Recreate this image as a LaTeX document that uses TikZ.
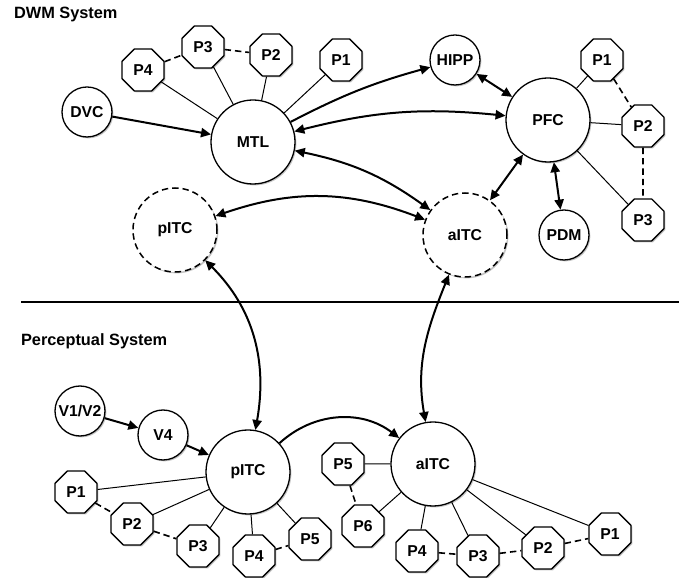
\documentclass[tikz,border=0pt]{standalone}
\usepackage{fontspec}
\setmainfont{Liberation Sans}
\usetikzlibrary{arrows.meta}
\usetikzlibrary{shapes, shadows}

\begin{document}
\begin{tikzpicture}[>={Triangle[length=5bp,width=4.6bp]},line join=bevel,
  font=\fontsize{7.9}{9}\selectfont\bfseries,
  area/.style={circle,draw,fill=white,line width=0.65bp,inner sep=0pt,minimum size=42bp,
    drop shadow={shadow xshift=0.7bp,shadow yshift=-0.7bp,fill=black!45}},
  smallarea/.style={area,minimum size=25bp},
  putative/.style={area,line width=0.75bp,dash pattern=on 3.2bp off 2bp},
  pnode/.style={regular polygon,regular polygon sides=8,draw,fill=white,line width=0.65bp,
    inner sep=0pt,minimum size=22.7bp,
    drop shadow={shadow xshift=0.7bp,shadow yshift=-0.7bp,fill=black!45}},
  link/.style={line width=0.5bp},
  plink/.style={line width=0.8bp,dash pattern=on 3.2bp off 2bp},
  conn/.style={line width=1bp},
  ]
\useasboundingbox (0bp,0bp) rectangle (339.5bp,289bp);
%% DWM system
\node (title_dwm) at (3.5bp,282bp) [anchor=west,font=\fontsize{8.2}{10}\selectfont\bfseries] {DWM System};
  \node (node_dvc) at (43.5bp,233bp) [smallarea] {DVC};
  \node (node_mtl) at (126.5bp,218bp) [area] {MTL};
  \node (node_mtl_p4) at (71.5bp,254bp) [pnode] {P4};
  \node (node_mtl_p3) at (101.5bp,265.5bp) [pnode] {P3};
  \node (node_mtl_p2) at (135.5bp,261.5bp) [pnode] {P2};
  \node (node_mtl_p1) at (170.5bp,259bp) [pnode] {P1};
  \node (node_hipp) at (227.5bp,259bp) [smallarea] {HIPP};
  \node (node_pfc) at (274bp,229bp) [area] {PFC};
  \node (node_pfc_p1) at (301bp,259bp) [pnode] {P1};
  \node (node_pfc_p2) at (321.5bp,226bp) [pnode] {P2};
  \node (node_pfc_p3) at (321.5bp,179bp) [pnode] {P3};
  \node (node_pdm) at (282bp,171.5bp) [smallarea] {PDM};
  \node (node_aitc_d) at (232.5bp,171.5bp) [putative] {aITC};
  \node (node_pitc_d) at (87.5bp,174bp) [putative] {pITC};
  \draw [conn,->] (node_dvc) -- (node_mtl);
  \draw [conn,->] (node_mtl) to[bend left=6] (node_hipp);
  \draw [conn,<->] (node_mtl) to[bend left=10] (node_pfc);
  \draw [conn,<->] (node_mtl) to[bend left=12] (node_aitc_d);
  \draw [conn,<->] (node_pitc_d) to[bend left=20] (node_aitc_d);
  \draw [conn,<->] (node_hipp) -- (node_pfc);
  \draw [conn,<->] (node_aitc_d) -- (node_pfc);
  \draw [conn,<->] (node_pfc) -- (node_pdm);
  \draw [link] (node_mtl) -- (node_mtl_p4);
  \draw [link] (node_mtl) -- (node_mtl_p3);
  \draw [link] (node_mtl) -- (node_mtl_p2);
  \draw [link] (node_mtl) -- (node_mtl_p1);
  \draw [plink] (node_mtl_p4) -- (node_mtl_p3);
  \draw [plink] (node_mtl_p3) -- (node_mtl_p2);
  \draw [link] (node_pfc) -- (node_pfc_p1);
  \draw [link] (node_pfc) -- (node_pfc_p2);
  \draw [link] (node_pfc) -- (node_pfc_p3);
  \draw [plink] (node_pfc_p1) -- (node_pfc_p2);
  \draw [plink] (node_pfc_p2) -- (node_pfc_p3);
%
\draw [line width=0.75bp] (10.5bp,138bp) -- (339.5bp,138bp);
%% perceptual system
\node (title_perc) at (7bp,118.5bp) [anchor=west,font=\fontsize{8.2}{10}\selectfont\bfseries] {Perceptual System};
  \node (node_v1v2) at (40bp,83.5bp) [smallarea] {V1/V2};
  \node (node_v4) at (81.5bp,71.5bp) [smallarea] {V4};
  \node (node_pitc) at (124bp,53bp) [area] {pITC};
  \node (node_pitc_p1) at (38bp,43bp) [pnode] {P1};
  \node (node_pitc_p2) at (66bp,27bp) [pnode] {P2};
  \node (node_pitc_p3) at (99bp,16bp) [pnode] {P3};
  \node (node_pitc_p4) at (127bp,11bp) [pnode] {P4};
  \node (node_pitc_p5) at (155bp,19.5bp) [pnode] {P5};
  \node (node_aitc) at (216.5bp,57bp) [area] {aITC};
  \node (node_aitc_p5) at (171.5bp,57bp) [pnode] {P5};
  \node (node_aitc_p6) at (181.5bp,26bp) [pnode] {P6};
  \node (node_aitc_p4) at (208.5bp,13.5bp) [pnode] {P4};
  \node (node_aitc_p3) at (239bp,11bp) [pnode] {P3};
  \node (node_aitc_p2) at (271.5bp,15bp) [pnode] {P2};
  \node (node_aitc_p1) at (305bp,22bp) [pnode] {P1};
  \draw [conn,->] (node_v1v2) -- (node_v4);
  \draw [conn,->] (node_v4) -- (node_pitc);
  \draw [conn,->] (node_pitc) to[bend left=40] (node_aitc);
  \draw [link] (node_pitc) -- (node_pitc_p1);
  \draw [link] (node_pitc) -- (node_pitc_p2);
  \draw [link] (node_pitc) -- (node_pitc_p3);
  \draw [link] (node_pitc) -- (node_pitc_p4);
  \draw [link] (node_pitc) -- (node_pitc_p5);
  \draw [plink] (node_pitc_p1) -- (node_pitc_p2);
  \draw [plink] (node_pitc_p2) -- (node_pitc_p3);
  \draw [plink] (node_pitc_p4) -- (node_pitc_p5);
  \draw [link] (node_aitc) -- (node_aitc_p5);
  \draw [link] (node_aitc) -- (node_aitc_p6);
  \draw [link] (node_aitc) -- (node_aitc_p4);
  \draw [link] (node_aitc) -- (node_aitc_p3);
  \draw [link] (node_aitc) -- (node_aitc_p2);
  \draw [link] (node_aitc) -- (node_aitc_p1);
  \draw [plink] (node_aitc_p5) -- (node_aitc_p6);
  \draw [plink] (node_aitc_p4) -- (node_aitc_p3);
  \draw [plink] (node_aitc_p3) -- (node_aitc_p2);
  \draw [plink] (node_aitc_p2) -- (node_aitc_p1);
%% across the two systems
  \draw [conn,<->] (node_pitc_d) to[out=-45,in=80] (node_pitc);
  \draw [conn,<->] (node_aitc_d) to[out=-112,in=100] (node_aitc);
%
\end{tikzpicture}
\end{document}
